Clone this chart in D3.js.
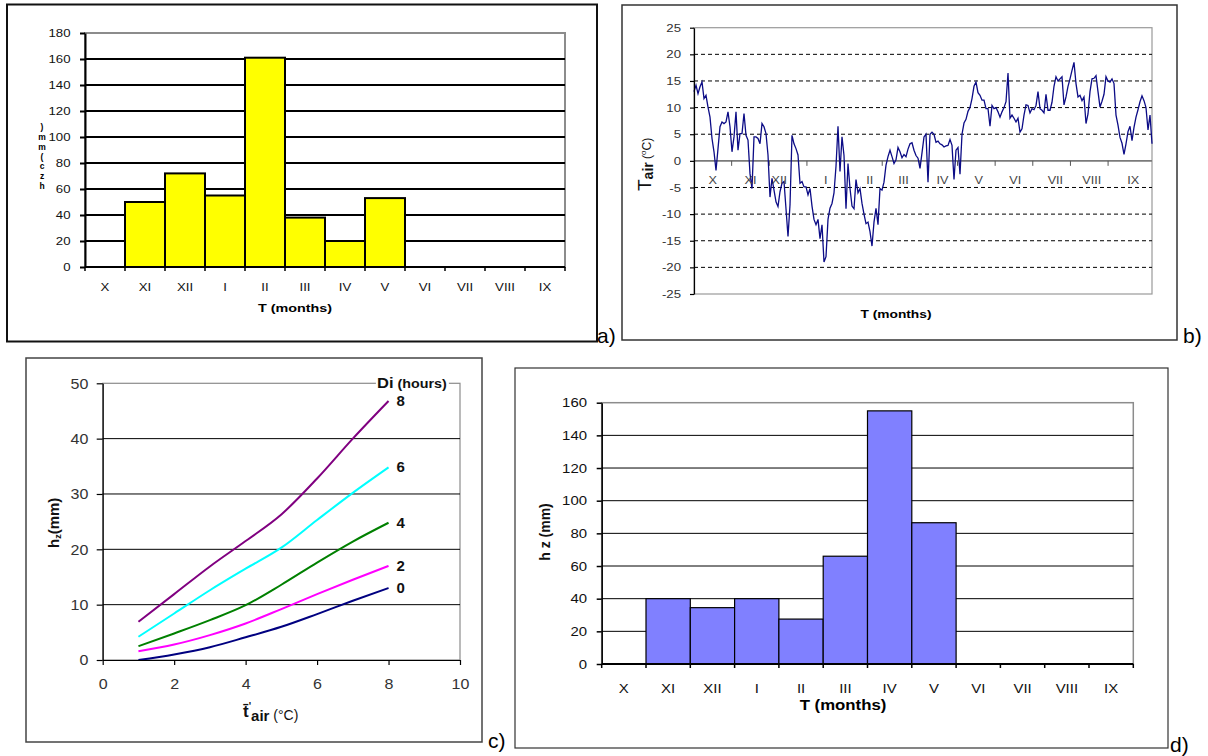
<!DOCTYPE html>
<html>
<head>
<meta charset="utf-8">
<script src="https://cdn.jsdelivr.net/npm/d3@7"></script>
<style>
  body { margin: 0; background: #fff; }
  svg { display: block; }
  text { font-family: "Liberation Sans", Arial, sans-serif; }
</style>
</head>
<body>
<svg id="fig" width="1208" height="756"></svg>
<script>
// ---------- data ----------
const months = ["X", "XI", "XII", "I", "II", "III", "IV", "V", "VI", "VII", "VIII", "IX"];

// (a) monthly snow water, mm (0 = no bar)
const snowA = [0, 50, 72, 55, 161, 38, 20, 53, 0, 0, 0, 0];
const ticksA = [0, 20, 40, 60, 80, 100, 120, 140, 160, 180];

// (b) air temperature through the hydrological year, evenly spaced samples (°C)
const tAir = [
  13, 14.2, 12.6, 13.9, 14.8, 11.7, 12.3, 10.1, 8.2, 4.2, 1.7, -1.8, 2.3, 6.4, 7.3, 7, 7.3, 9.2, 6.4, 1.7,
  4.5, 9.2, 2, 5.1, 5.1, 8.9, 4.8, 3.9, -2.4, -5.2, 4.5, 4.5, 4.2, 3.2, 7, 6.4, 5.1, 1.1, -6.8, -3.3,
  -5.5, -7.7, -8.6, -5.8, -4.2, -3.9, -9, -14.2, -8.3, 4.8, 3.2, 2.3, 1.1, -4.2, -3.9, -4.9, -4.9, -6.4, -5.2,
  -8.5, -11, -12, -11, -14.6, -12, -19, -18, -11, -8.9, -8, -6, -1, 6.5, -2, 4.5, 1, -9, -0.5, -5.2,
  -8.5, -9, -3.5, -6, -5.2, -8, -10, -11.8, -11.5, -13.3, -16, -11.5, -8.9, -12, -5.2, -5.5, -4, -0.8, 0.8, 2,
  0.8, -0.5, 0.2, 2.5, 1.7, 0.6, 1.2, 0.8, 2.2, 3.2, 3.4, 2, 1, 0.5, -1.4, 1.5, 4.5,
  5, -4, 5, 5.4, 5, 3.5, 3.7, 3.2, 3, 2.6, 2.8, 2.9, 4, 2.9, -3.5, 2, 2.5, -2.5, 5, 7.1,
  7.8, 9.3, 10, 11.7, 14, 14.8, 12.8, 12.3, 11.4, 11.4, 9.8, 9.8, 6.5, 10.4, 9.8, 10, 9.2, 8.2, 9.2, 10,
  11.1, 16.5, 8, 8.6, 8, 7.3, 8, 5.4, 6, 8.6, 10.5, 10.4, 9, 9.8, 9.6, 10.4, 13, 9.8,
  9.5, 9, 12.5, 9.5, 9.5, 11, 14, 15.8, 15, 15.4, 15.8, 10.5, 12, 14, 15.4, 17, 18.5, 14.5, 12, 12.3,
  11.3, 12, 7, 8.8, 13, 15.4, 15.5, 16, 13, 10.1, 11.2, 12.5, 15.8, 15, 14.8, 15.4, 14.5, 8.6, 6.7, 4.4,
  3.3, 1.2, 3.2, 5.5, 6.5, 3.8, 6.3, 8.2, 9.6, 11.1, 12.2, 11.3, 10, 5.8, 8.6, 3.2
];
const yearDays = 365;
const monthTickDays = [30, 60, 90, 120, 150, 180, 210, 240, 270, 300, 330];
const monthLabelDays = [15, 45, 68, 105, 140, 167, 198, 227, 256, 288, 317, 350];
const ticksB = [-25, -20, -15, -10, -5, 0, 5, 10, 15, 20, 25];

// (c) melt depth vs mean air temperature for several sunshine durations
const tempC = [1, 2, 3, 4, 5, 6, 7, 8];
const hz0 = [0, 1, 2.3, 4.1, 6, 8.3, 10.7, 13];
const hz2 = [1.6, 2.8, 4.5, 6.6, 9.2, 11.9, 14.5, 17];
const hz4 = [2.5, 4.8, 7.2, 9.9, 13.6, 17.6, 21.4, 24.8];
const hz6 = [4.2, 8.4, 12.6, 16.5, 20.3, 25.3, 30.2, 34.8];
const hz8 = [6.9, 11.9, 16.9, 21.5, 26.3, 32.8, 40, 46.8];
const sunHours = ["0", "2", "4", "6", "8"];
const curveColors = ["#000080", "#ff00ff", "#008000", "#00ffff", "#800080"];
const ticksCx = [0, 2, 4, 6, 8, 10];
const ticksCy = [0, 10, 20, 30, 40, 50];

// (d) monthly melt, mm
const meltD = [0, 40, 34.5, 40, 27.5, 66, 155, 86.5, 0, 0, 0, 0];
const ticksD = [0, 20, 40, 60, 80, 100, 120, 140, 160];

// ---------- helpers ----------
const svg = d3.select("#fig");

function frame(x, y, w, h, stroke, sw) {
  svg.append("rect").attr("x", x).attr("y", y).attr("width", w).attr("height", h)
    .attr("fill", "none").attr("stroke", stroke).attr("stroke-width", sw);
}

function addText(parent, x, y, str, o) {
  const g = parent.append("g").attr("transform", `translate(${x},${y}) scale(${o.sx || 1},1)`);
  return g.append("text")
    .attr("text-anchor", o.anchor || "start")
    .attr("font-size", o.size)
    .attr("font-weight", o.weight || "normal")
    .attr("fill", o.fill || "#000")
    .text(str);
}

function leftAxis(parent, scale, ticks, o) {
  const ax = parent.append("g").attr("transform", `translate(${o.x},0)`)
    .call(d3.axisLeft(scale).tickValues(ticks).tickSize(o.tick).tickSizeOuter(0).tickFormat(d => String(d)));
  ax.attr("font-family", null).attr("font-size", null);
  ax.select(".domain").attr("stroke", "#000").attr("stroke-width", o.sw);
  ax.selectAll(".tick line").attr("stroke", "#000").attr("stroke-width", o.sw);
  ax.selectAll(".tick text")
    .attr("x", -o.off / o.sx).attr("transform", `scale(${o.sx},1)`)
    .attr("font-size", o.size).attr("fill", o.fill);
  return ax;
}

// Monthly bar panel (a and d share this layout)
function barPanel(P, values, ticks, o) {
  const g = svg.append("g");
  const x = d3.scaleBand().domain(months).range([P.l, P.r]);
  const y = d3.scaleLinear().domain([0, ticks[ticks.length - 1]]).range([P.b, P.t]);

  g.append("rect").attr("x", P.l).attr("y", P.t).attr("width", P.r - P.l).attr("height", P.b - P.t)
    .attr("fill", "none").attr("stroke", "#8c8c8c").attr("stroke-width", o.borderW);

  g.selectAll("line.grid").data(ticks.slice(1, -1)).join("line").attr("class", "grid")
    .attr("x1", P.l).attr("x2", P.r).attr("y1", d => y(d)).attr("y2", d => y(d))
    .attr("stroke", "#000").attr("stroke-width", o.gridW);

  const rows = months.map((m, i) => ({ m, v: values[i] })).filter(d => d.v > 0);
  g.selectAll("rect.bar").data(rows).join("rect").attr("class", "bar")
    .attr("x", d => x(d.m)).attr("y", d => y(d.v))
    .attr("width", x.bandwidth()).attr("height", d => y(0) - y(d.v))
    .attr("fill", o.fill).attr("stroke", "#000").attr("stroke-width", o.barW);

  // category boundary ticks
  const bounds = months.map(m => x(m)).concat([P.r]);
  g.selectAll("line.ctick").data(bounds).join("line").attr("class", "ctick")
    .attr("x1", d => d).attr("x2", d => d).attr("y1", P.b).attr("y2", P.b + 4)
    .attr("stroke", "#000").attr("stroke-width", 1.5);

  g.append("line").attr("x1", P.l).attr("x2", P.r).attr("y1", P.b).attr("y2", P.b)
    .attr("stroke", "#000").attr("stroke-width", 2);

  leftAxis(g, y, ticks, { x: P.l, tick: 5, sw: o.axisW, off: o.yOff, sx: o.sx, size: o.tickSize, fill: "#111" });

  g.selectAll("text.mlab").data(months).join("text").attr("class", "mlab")
    .attr("transform", d => `translate(${x(d) + x.bandwidth() / 2},${P.b + o.labDy}) scale(${o.sx},1)`)
    .attr("text-anchor", "middle").attr("font-size", o.tickSize).attr("fill", "#111")
    .text(d => d);
  return g;
}

// ---------- panel frames ----------
frame(7, 4.5, 590, 337, "#111", 2);
frame(622, 5, 555, 335, "#333", 1.5);
frame(26, 358, 456, 384, "#444", 1.5);
frame(515, 368, 653, 380, "#333", 1.2);

// ---------- (a) ----------
const A = { l: 85, r: 565, t: 33, b: 267 };
const gA = barPanel(A, snowA, ticksA, {
  fill: "#ffff00", barW: 2, gridW: 2, borderW: 2, axisW: 2,
  yOff: 14.5, sx: 1.15, tickSize: 11.5, labDy: 24
});
addText(gA, 295, 312, "T (months)", { size: 11.5, weight: "bold", anchor: "middle", sx: 1.25 });
// one label, glyphs kept upright and stacked from bottom to top
const stackedLabel = Array.from("hzc(mm)");
gA.append("text").attr("text-anchor", "middle").attr("font-size", 8.5).attr("font-weight", "bold")
  .selectAll("tspan").data(stackedLabel).join("tspan")
  .attr("x", 42).attr("y", (d, i) => 189 - i * 9.8)
  .text(d => d);

// ---------- (b) ----------
const B = { l: 694, r: 1152, t: 27.7, b: 294 };
const gB = svg.append("g");
const xB = d3.scaleLinear().domain([0, yearDays]).range([B.l, B.r]);
const yB = d3.scaleLinear().domain([-25, 25]).range([B.b, B.t]);

gB.append("rect").attr("x", B.l).attr("y", B.t).attr("width", B.r - B.l).attr("height", B.b - B.t)
  .attr("fill", "none").attr("stroke", "#9a9a9a").attr("stroke-width", 1.2);
gB.selectAll("line.grid").data(ticksB.filter(v => v !== 0 && Math.abs(v) < 25)).join("line").attr("class", "grid")
  .attr("x1", B.l).attr("x2", B.r).attr("y1", d => yB(d)).attr("y2", d => yB(d))
  .attr("stroke", "#000").attr("stroke-width", 1).attr("stroke-dasharray", "4,3");
gB.append("line").attr("x1", B.l).attr("x2", B.r).attr("y1", yB(0)).attr("y2", yB(0))
  .attr("stroke", "#7a7a7a").attr("stroke-width", 1.6);
gB.selectAll("line.mtick").data(monthTickDays).join("line").attr("class", "mtick")
  .attr("x1", d => xB(d)).attr("x2", d => xB(d)).attr("y1", yB(0)).attr("y2", yB(0) + 5)
  .attr("stroke", "#555").attr("stroke-width", 1);

const step = yearDays / (tAir.length - 1);
gB.append("path").datum(tAir)
  .attr("d", d3.line().x((d, i) => xB(i * step)).y(d => yB(d)))
  .attr("fill", "none").attr("stroke", "#0c0c86").attr("stroke-width", 1.3);

gB.selectAll("text.mlab").data(months).join("text").attr("class", "mlab")
  .attr("transform", (d, i) => `translate(${xB(monthLabelDays[i])},${yB(0) + 23.5}) scale(1.1,1)`)
  .attr("text-anchor", "middle").attr("font-size", 11.5).attr("fill", "#444")
  .text(d => d);

leftAxis(gB, yB, ticksB, { x: B.l, tick: 4, sw: 1.2, off: 13, sx: 1.2, size: 11, fill: "#333" });
addText(gB, 896, 318, "T (months)", { size: 11, weight: "bold", anchor: "middle", sx: 1.25 });

const yLabB = gB.append("text").attr("transform", "translate(651,191) rotate(-90)").attr("fill", "#111");
yLabB.append("tspan").attr("font-size", 19).text("T");
yLabB.append("tspan").attr("font-size", 14).attr("font-weight", "bold").attr("dy", 1.5).text("air");
yLabB.append("tspan").attr("font-size", 12).attr("dy", -1.5).text(" (");
yLabB.append("tspan").attr("font-size", 8).attr("dy", -5).text("o");
yLabB.append("tspan").attr("font-size", 12).attr("dy", 5).text("C)");

// ---------- (c) ----------
const C = { l: 102.7, r: 460, t: 383.3, b: 660 };
const gC = svg.append("g");
const xC = d3.scaleLinear().domain([0, 10]).range([C.l, C.r]);
const yC = d3.scaleLinear().domain([0, 50]).range([C.b, C.t]);

gC.append("rect").attr("x", C.l).attr("y", C.t).attr("width", C.r - C.l).attr("height", C.b - C.t)
  .attr("fill", "none").attr("stroke", "#8c8c8c").attr("stroke-width", 1.2);
gC.selectAll("line.grid").data(ticksCy.slice(1, -1)).join("line").attr("class", "grid")
  .attr("x1", C.l).attr("x2", C.r).attr("y1", d => yC(d)).attr("y2", d => yC(d))
  .attr("stroke", "#000").attr("stroke-width", 1);

const curves = [hz0, hz2, hz4, hz6, hz8];
const lineC = d3.line().x((d, i) => xC(tempC[i])).y(d => yC(d)).curve(d3.curveMonotoneX);
gC.selectAll("path.curve").data(curves).join("path").attr("class", "curve")
  .attr("d", d => lineC(d)).attr("fill", "none")
  .attr("stroke", (d, i) => curveColors[i]).attr("stroke-width", 2);
gC.selectAll("text.clab").data(curves).join("text").attr("class", "clab")
  .attr("x", xC(tempC[tempC.length - 1]) + 8).attr("y", d => yC(d[d.length - 1]) + 5)
  .attr("font-size", 15).attr("font-weight", "bold").attr("fill", "#111")
  .text((d, i) => sunHours[i]);

leftAxis(gC, yC, ticksCy, { x: C.l, tick: 6, sw: 1.2, off: 14.4, sx: 1.07, size: 15, fill: "#333" });
const axCx = gC.append("g").attr("transform", `translate(0,${C.b})`)
  .call(d3.axisBottom(xC).tickValues(ticksCx).tickSize(5).tickSizeOuter(0).tickFormat(d => String(d)));
axCx.attr("font-family", null).attr("font-size", null);
axCx.select(".domain").attr("stroke", "#000").attr("stroke-width", 1.2);
axCx.selectAll(".tick line").attr("stroke", "#000").attr("stroke-width", 1.2);
axCx.selectAll(".tick text").attr("y", 29).attr("dy", null).attr("transform", "scale(1.07,1)")
  .attr("font-size", 15).attr("fill", "#333");

// legend title sitting on the top border
const diG = gC.append("g").attr("transform", "translate(377,388) scale(1.1,1)");
const diBg = diG.append("rect").attr("fill", "#fff");
const diT = diG.append("text").attr("font-weight", "bold").attr("fill", "#111");
diT.append("tspan").attr("font-size", 15).text("Di");
diT.append("tspan").attr("font-size", 13).text(" (hours)");
const bb = diT.node().getBBox();
diBg.attr("x", bb.x - 1).attr("y", bb.y).attr("width", bb.width + 3).attr("height", bb.height);

const yLabC = gC.append("text").attr("transform", "translate(59,548) rotate(-90)")
  .attr("font-weight", "bold").attr("fill", "#111");
yLabC.append("tspan").attr("font-size", 15).text("h");
yLabC.append("tspan").attr("font-size", 9).attr("dy", 2).text("z");
yLabC.append("tspan").attr("font-size", 15).attr("dy", -2).text("(mm)");

const xLabC = gC.append("text").attr("x", 243).attr("y", 717).attr("fill", "#111");
xLabC.append("tspan").attr("font-size", 17).attr("font-weight", "bold").text("t\u0304");
xLabC.append("tspan").attr("font-size", 10).attr("font-weight", "bold").attr("dy", -7).text("'");
xLabC.append("tspan").attr("font-size", 15).attr("font-weight", "bold").attr("dy", 11).text("air");
xLabC.append("tspan").attr("font-size", 14).attr("dy", -1).text(" (\u00b0C)");

// ---------- (d) ----------
const D = { l: 601.7, r: 1133.3, t: 402.7, b: 664 };
const gD = barPanel(D, meltD, ticksD, {
  fill: "#8080ff", barW: 1.2, gridW: 1, borderW: 1.5, axisW: 1.5,
  yOff: 14.7, sx: 1.15, tickSize: 13, labDy: 28.5
});
addText(gD, 843, 710, "T (months)", { size: 14, weight: "bold", anchor: "middle", sx: 1.2 });
gD.append("text").attr("transform", "translate(550,532) rotate(-90)")
  .attr("text-anchor", "middle").attr("font-size", 14).attr("font-weight", "bold").attr("fill", "#111")
  .text("h z (mm)");

// ---------- panel letters ----------
const letters = [["a)", 597, 343], ["b)", 1183, 343], ["c)", 488, 748], ["d)", 1170, 752]];
svg.selectAll("text.letter").data(letters).join("text").attr("class", "letter")
  .attr("x", d => d[1]).attr("y", d => d[2])
  .attr("font-family", "'Liberation Serif', 'Times New Roman', serif").attr("font-size", 21)
  .text(d => d[0]);
</script>
</body>
</html>
